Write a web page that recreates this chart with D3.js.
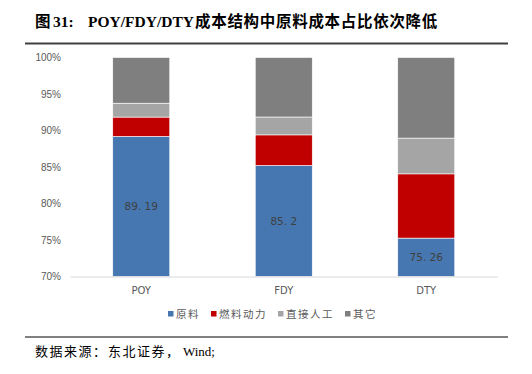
<!DOCTYPE html>
<html>
<head>
<meta charset="utf-8">
<script src="https://cdn.jsdelivr.net/npm/d3@7"></script>
<style>
  body { margin: 0; background: #fff; }
  svg { display: block; }
</style>
</head>
<body>
<svg id="chart"></svg>
<script>
var categories = ["POY", "FDY", "DTY"];
var seriesNames = ["原料", "燃料动力", "直接人工", "其它"];
var rawMaterial = [89.19, 85.2, 75.26];
var fuelPower = [2.65, 4.2, 8.8];
var directLabor = [1.9, 2.45, 4.9];
var others = [6.26, 8.15, 11.04];
var yTicks = [70, 75, 80, 85, 90, 95, 100];

var colors = ["#4677B0", "#C00000", "#A5A5A5", "#7F7F7F"];

var width = 532, height = 374;
var svg = d3.select("#chart").attr("width", width).attr("height", height);

var serif = "'Liberation Serif', 'Noto Sans CJK SC'";

// title + rules
var title = svg.append("text")
  .attr("y", 27)
  .style("font-family", serif)
  .style("font-weight", "bold")
  .style("font-size", "15.5px")
  .attr("fill", "#000");
title.append("tspan").attr("x", 35).text("图");
title.append("tspan").attr("x", 53).text("31:");
title.append("tspan").attr("x", 88).text("POY/FDY/DTY");
title.append("tspan").attr("x", 195).style("letter-spacing", "0.7px").style("font-weight", "600")
  .text("成本结构中原料成本占比依次降低");

svg.append("line")
  .attr("x1", 25).attr("x2", 508).attr("y1", 43.5).attr("y2", 43.5)
  .attr("stroke", "#404040").attr("stroke-width", 2);
svg.append("line")
  .attr("x1", 25).attr("x2", 508).attr("y1", 337).attr("y2", 337)
  .attr("stroke", "#000").attr("stroke-width", 1);

var src = svg.append("text")
  .attr("y", 356)
  .style("font-family", serif)
  .style("font-size", "13px")
  .attr("fill", "#000");
src.append("tspan").attr("x", 35).style("letter-spacing", "1.5px").text("数据来源：");
src.append("tspan").attr("x", 108).style("letter-spacing", "1.5px").text("东北证券，");
src.append("tspan").attr("x", 183).text("Wind;");

var plot = { left: 70, right: 497.5, top: 57.5, bottom: 276.5 };

var x = d3.scaleBand().domain(categories).range([plot.left, plot.right]).paddingInner(0.6).paddingOuter(0.3);
var y = d3.scaleLinear().domain([70, 100]).range([plot.bottom, plot.top]);

var rows = categories.map(function (c, i) {
  return { cat: c, "原料": rawMaterial[i], "燃料动力": fuelPower[i], "直接人工": directLabor[i], "其它": others[i] };
});
var stacked = d3.stack().keys(seriesNames)(rows);

// y axis labels
var yaxis = d3.axisLeft(y).tickValues(yTicks).tickSize(0).tickPadding(9)
  .tickFormat(function (d) { return d + "%"; });
var gy = svg.append("g").attr("transform", "translate(" + plot.left + ",0)").call(yaxis);
gy.select(".domain").remove();
gy.selectAll("text")
  .style("font-family", "'Liberation Sans', Arial, sans-serif")
  .style("font-size", "10px")
  .attr("fill", "#595959");

// bars
svg.append("g").selectAll("g")
  .data(stacked).enter().append("g")
  .attr("fill", function (d, i) { return colors[i]; })
  .selectAll("rect")
  .data(function (d) { return d; }).enter().append("rect")
  .attr("x", function (d) { return x(d.data.cat); })
  .attr("width", x.bandwidth())
  .attr("y", function (d) { return y(Math.min(d[1], 100)); })
  .attr("height", function (d) {
    var lo = Math.max(d[0], 70);
    return y(lo) - y(Math.min(d[1], 100));
  })
  .attr("stroke", "#fff").attr("stroke-width", 0.6);

// data labels on raw material
svg.append("g").selectAll("text")
  .data(stacked[0]).enter().append("text")
  .attr("x", function (d) { return x(d.data.cat) + x.bandwidth() / 2; })
  .attr("y", function (d) { return (y(70) + y(d[1])) / 2 + 4; })
  .attr("text-anchor", "middle")
  .style("font-family", "'DejaVu Sans', sans-serif")
  .style("font-size", "10.5px")
  .attr("fill", "#404040")
  .text(function (d) { return String(d[1]).replace(".", ". "); });

// x axis
var xaxis = d3.axisBottom(x).tickSize(0).tickPadding(10);
var gx = svg.append("g").attr("transform", "translate(0," + plot.bottom + ")").call(xaxis);
gx.select(".domain").attr("stroke", "#D9D9D9");
gx.selectAll("text")
  .style("font-family", "'DejaVu Sans', sans-serif")
  .style("font-size", "10px")
  .attr("fill", "#595959");

// legend
var legendX = [168, 211, 278, 345];
var lg = svg.append("g").selectAll("g")
  .data(seriesNames).enter().append("g")
  .attr("transform", function (d, i) { return "translate(" + legendX[i] + ",314)"; });
lg.append("rect").attr("x", 0).attr("y", -3).attr("width", 5.5).attr("height", 5.5)
  .attr("fill", function (d, i) { return colors[i]; });
lg.append("text").attr("x", 8).attr("y", 4)
  .style("font-family", "'Noto Sans CJK SC', sans-serif")
  .style("font-size", "10.5px")
  .style("letter-spacing", "1.5px")
  .attr("fill", "#595959")
  .text(function (d) { return d; });
</script>
</body>
</html>
